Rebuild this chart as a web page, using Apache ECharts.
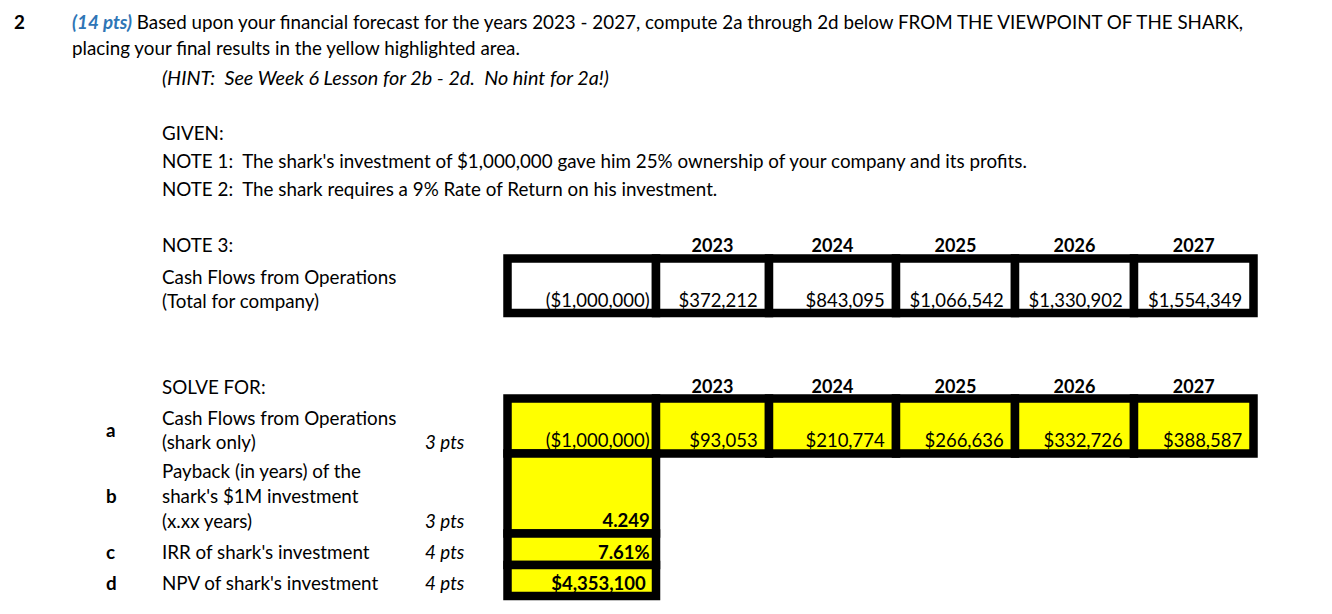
<!DOCTYPE html>
<html>
<head>
<meta charset="utf-8">
<script src="https://cdn.jsdelivr.net/npm/echarts@6/dist/echarts.min.js"></script>
<style>
html,body{margin:0;padding:0;background:#fff;}
#chart{width:1332px;height:614px;}
</style>
</head>
<body>
<div id="chart"></div>
<script>
// ---------- DATA ----------
const years = ['2023', '2024', '2025', '2026', '2027'];
const companyInitial = -1000000;
const companyCF = [372212, 843095, 1066542, 1330902, 1554349];
const sharkInitial = -1000000;
const sharkCF = [93053, 210774, 266636, 332726, 388587];
const paybackYears = 4.249;
const sharkIRR = 0.0761;
const sharkNPV = 4353100;

const NB2 = '\u00a0 ';
const questionNumber = '2';
const questionPoints = '(14 pts)';
const questionLines = [
  ' Based upon your financial forecast for the years 2023 - 2027, compute 2a through 2d below FROM THE VIEWPOINT OF THE SHARK,',
  'placing your final results in the yellow highlighted area.'
];
const hintText = '(HINT:' + NB2 + 'See Week 6 Lesson for 2b - 2d.' + NB2 + 'No hint for 2a!)';
const givenLines = [
  'GIVEN:',
  'NOTE 1:' + NB2 + "The shark's investment of $1,000,000 gave him 25% ownership of your company and its profits.",
  'NOTE 2:' + NB2 + 'The shark requires a 9% Rate of Return on his investment.'
];
const note3Lines = ['NOTE 3:', 'Cash Flows from Operations', '(Total for company)'];
const solveTitle = 'SOLVE FOR:';
const solveLetters = ['a', 'b', 'c', 'd'];
const solveLabels = [
  ['Cash Flows from Operations', '(shark only)'],
  ['Payback (in years) of the', "shark's $1M investment", '(x.xx years)'],
  ["IRR of shark's investment"],
  ["NPV of shark's investment"]
];
const solvePoints = ['3 pts', '3 pts', '4 pts', '4 pts'];

// ---------- LAYOUT (positions / styles only) ----------
const W = 1332, H = 614;
const FONT = 'Lato, "Open Sans", sans-serif';
const colLines = [507.5, 656, 769, 896, 1015, 1134, 1253.5];
const rowLines = [[258.5, 313], [398.5, 453.5], [453.5, 533.5], [533.5, 565], [565, 596]];
const rowFill = ['#ffffff', '#ffff00', '#ffff00', '#ffff00', '#ffff00'];
const rowBold = [false, false, true, true, true];
const headerY = [245, 386];
const BORDER = 8.5;

function money(v) {
  const s = '$' + Math.round(Math.abs(v)).toLocaleString('en-US');
  return v < 0 ? '(' + s + ')' : s;
}
function fmt(v, row) {
  if (row === 2) return v.toFixed(3);
  if (row === 3) return (v * 100).toFixed(2) + '%';
  return money(v);
}

// cell data built from the arrays: [column, row, value]
const cells = [];
cells.push([0, 0, companyInitial]);
companyCF.forEach((v, i) => cells.push([i + 1, 0, v]));
cells.push([0, 1, sharkInitial]);
sharkCF.forEach((v, i) => cells.push([i + 1, 1, v]));
cells.push([0, 2, paybackYears]);
cells.push([0, 3, sharkIRR]);
cells.push([0, 4, sharkNPV]);

// header data: [column, table]
const headers = [];
[0, 1].forEach(t => years.forEach((y, i) => headers.push([i + 1, t])));

function renderCell(params, api) {
  const col = api.value(0), row = api.value(1), v = api.value(2);
  const p0 = api.coord([colLines[col], rowLines[row][0]]);
  const p1 = api.coord([colLines[col + 1], rowLines[row][1]]);
  const neg = v < 0;
  const padR = (row <= 1 && !neg) ? 7 : (row === 4 ? 6 : 2);
  return {
    type: 'group',
    children: [
      { type: 'rect', shape: { x: p0[0], y: p0[1], width: p1[0] - p0[0], height: p1[1] - p0[1] },
        style: { fill: rowFill[row], stroke: '#000', lineWidth: BORDER } },
      { type: 'text', z2: 10,
        style: { text: fmt(v, row), x: p1[0] - BORDER / 2 - padR, y: p1[1] - BORDER / 2 - 9,
          align: 'right', verticalAlign: 'middle', fill: '#000',
          font: (rowBold[row] ? 'bold ' : '') + '18.5px ' + FONT } }
    ]
  };
}

function renderHeader(params, api) {
  const col = api.value(0), t = api.value(1);
  const a = api.coord([colLines[col], headerY[t]]);
  const b = api.coord([colLines[col + 1], headerY[t]]);
  return { type: 'text', style: { text: years[col - 1], x: (a[0] + b[0]) / 2, y: a[1],
    align: 'center', verticalAlign: 'middle', fill: '#000', font: 'bold 18px ' + FONT } };
}

// ---------- static text ----------
const TXT = '18.8px ' + FONT;
const g = [];
function addText(text, x, y, font, fill) {
  g.push({ type: 'text', x: x, y: y - 0.5, style: { text: text, font: font || TXT, fill: fill || '#000', verticalAlign: 'middle' } });
}
addText(questionNumber, 14, 22, 'bold ' + TXT);
g.push({ type: 'text', x: 72, y: 21.5, style: {
  text: '{p|' + questionPoints + '}{t|' + questionLines[0] + '}', verticalAlign: 'middle',
  rich: { p: { font: 'italic bold ' + TXT, fill: '#2e75b6' }, t: { font: TXT, fill: '#000' } } } });
addText(questionLines[1], 72, 48);
addText(hintText, 162, 77, 'italic 19.8px ' + FONT);
givenLines.forEach((l, i) => addText(l, 162, [133, 161, 189][i]));
note3Lines.forEach((l, i) => addText(l, 162, [245, 277, 301][i]));
addText(solveTitle, 162, 387);
const labelYs = [[418, 442], [471, 496, 521], [552], [583]];
const letterYs = [430, 496, 552, 583];
solveLabels.forEach((lines, i) => {
  lines.forEach((l, j) => addText(l, 162, labelYs[i][j]));
  addText(solveLetters[i], 106, letterYs[i], 'bold ' + TXT);
  addText(solvePoints[i], 425, labelYs[i][labelYs[i].length - 1], 'italic ' + TXT);
});

const chart = echarts.init(document.getElementById('chart'), null, { renderer: 'svg', width: W, height: H });
chart.setOption({
  animation: false,
  backgroundColor: '#fff',
  grid: { left: 0, right: 0, top: 0, bottom: 0 },
  xAxis: { type: 'value', min: 0, max: W, show: false },
  yAxis: { type: 'value', min: 0, max: H, inverse: true, show: false },
  series: [
    { type: 'custom', renderItem: renderCell, data: cells, clip: false, silent: true },
    { type: 'custom', renderItem: renderHeader, data: headers, clip: false, silent: true }
  ],
  graphic: g
});
</script>
</body>
</html>
